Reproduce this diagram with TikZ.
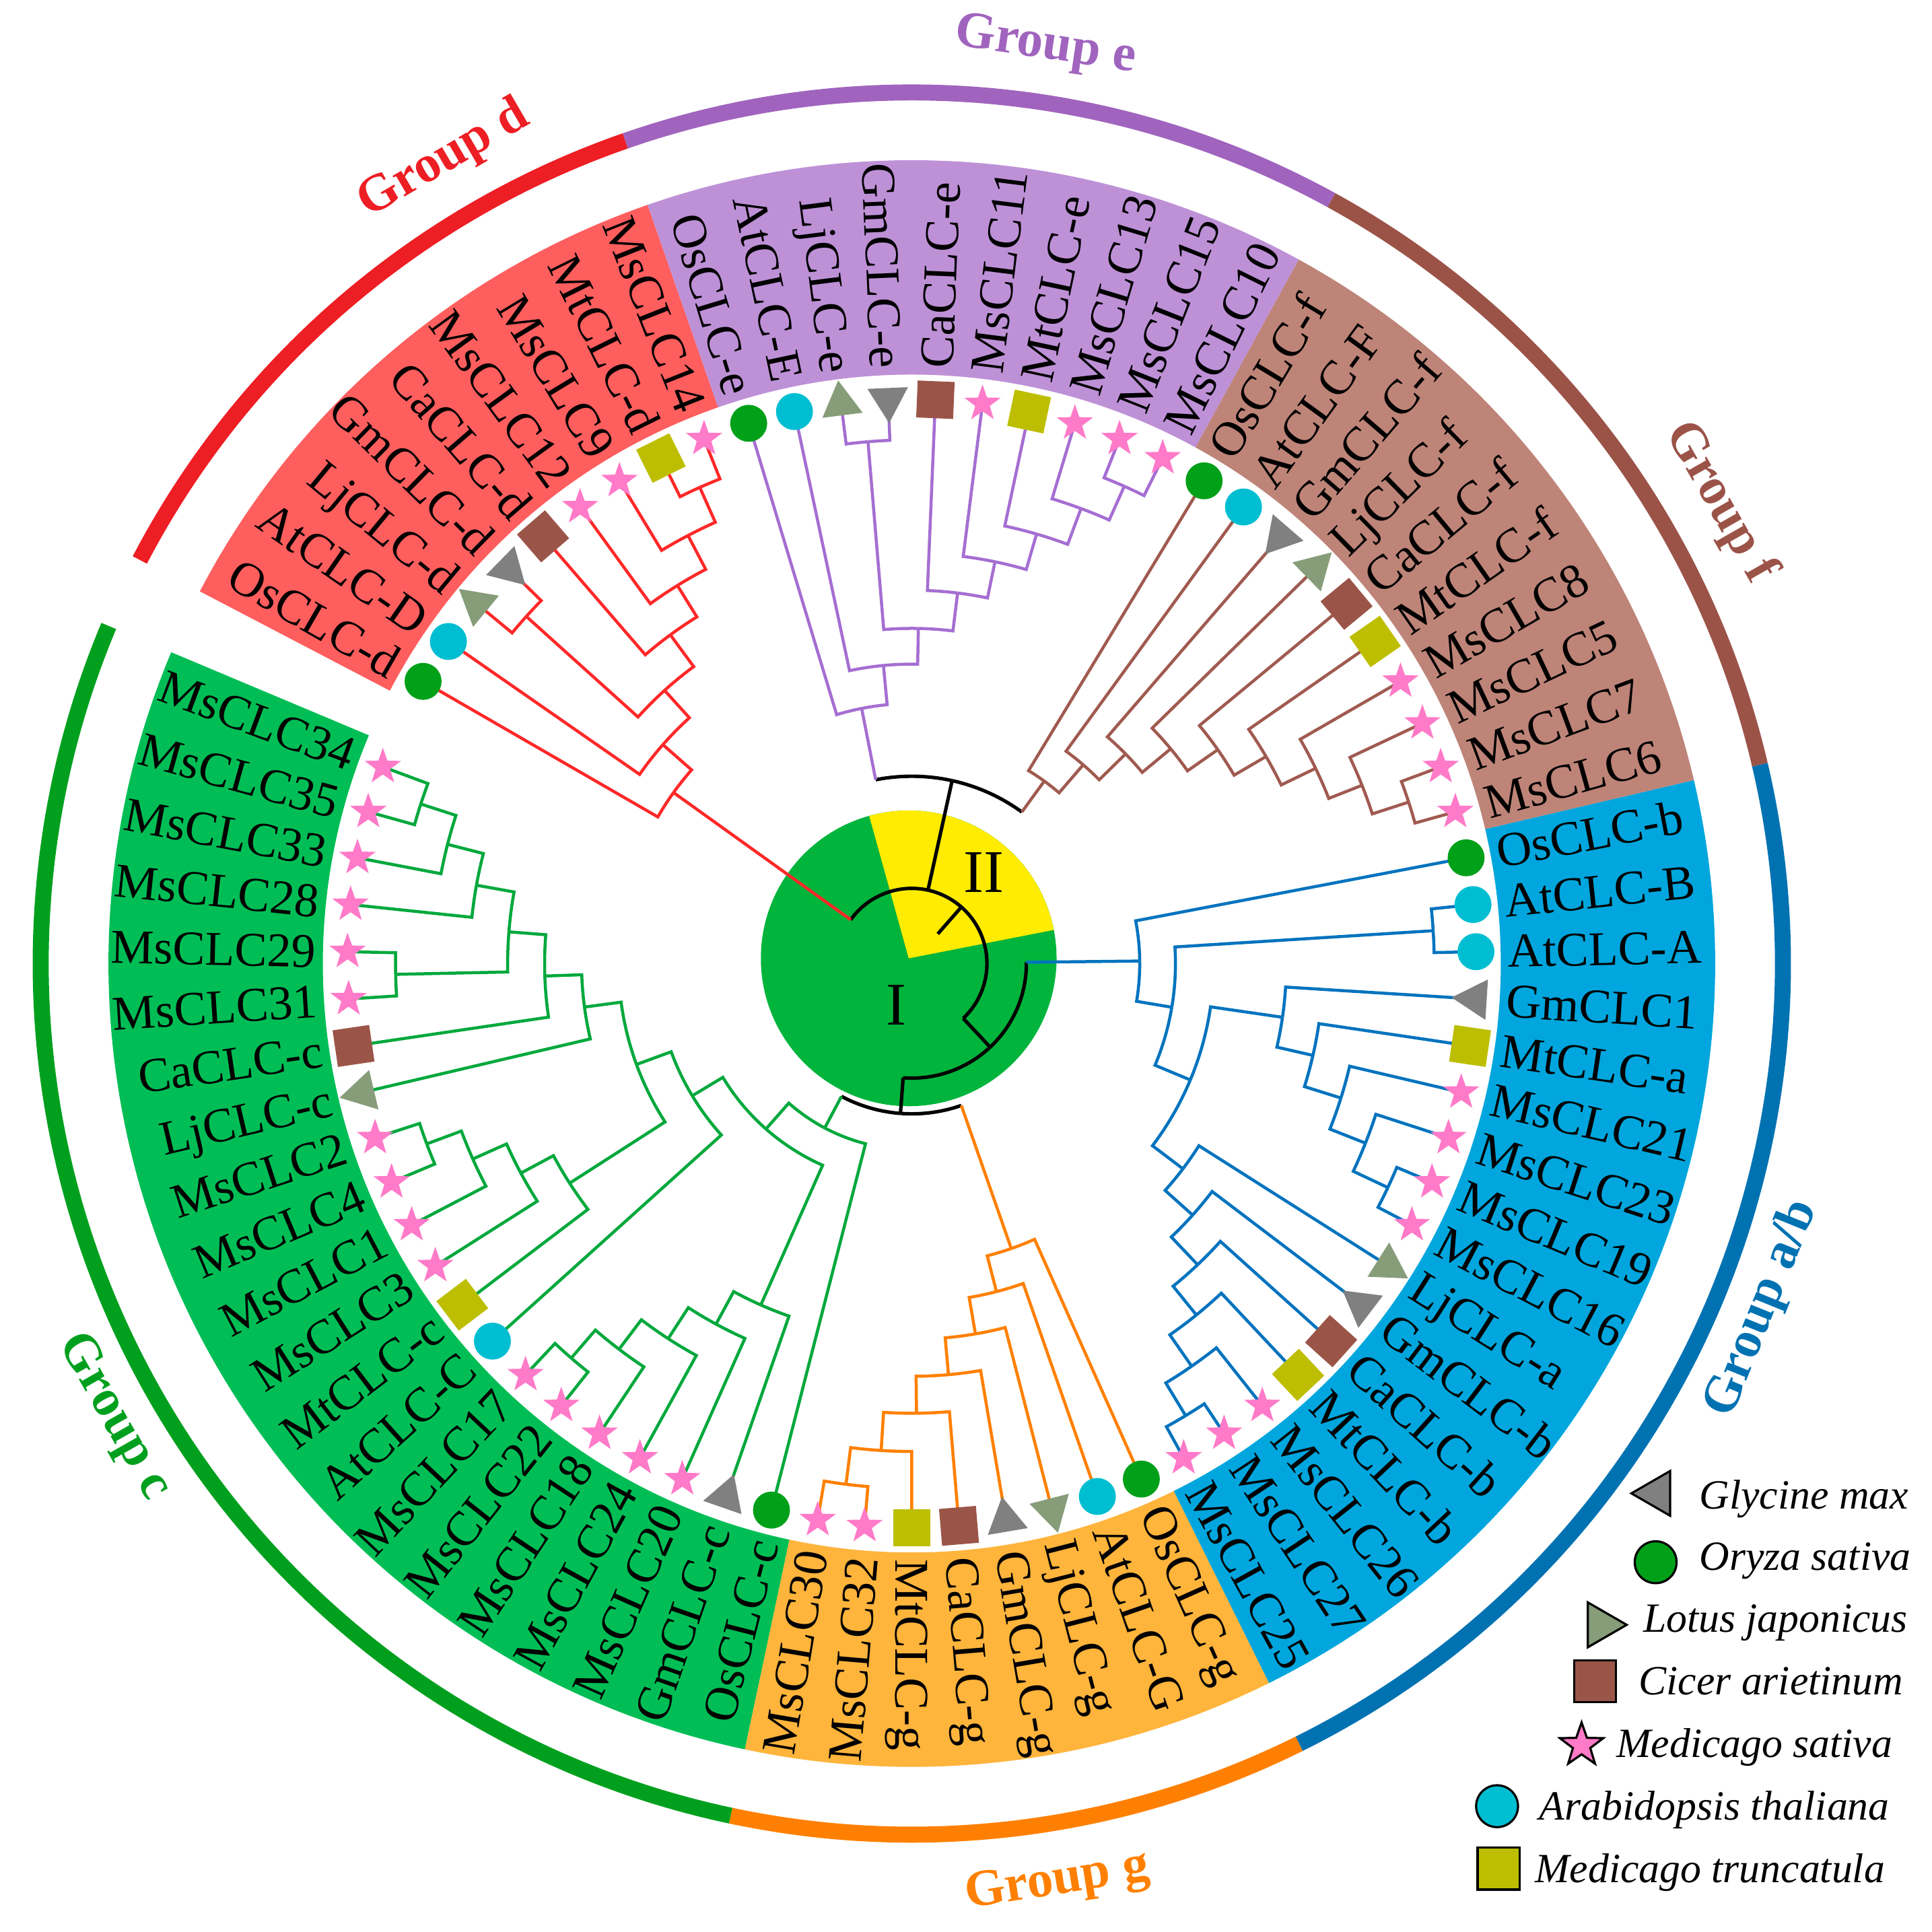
\documentclass[tikz,border=0pt]{standalone}
\usepackage{fontspec}
\setmainfont{Liberation Serif}
\usetikzlibrary{shapes.geometric}

\definecolor{diskg}{RGB}{0,180,60}
\definecolor{diskyel}{RGB}{255,236,0}
\definecolor{lnab}{RGB}{0,115,190}
\definecolor{lng}{RGB}{255,128,0}
\definecolor{lnc}{RGB}{0,168,60}
\definecolor{lnd}{RGB}{255,40,40}
\definecolor{lne}{RGB}{165,110,210}
\definecolor{lnf}{RGB}{160,90,80}
\definecolor{bandab}{RGB}{0,166,221}
\definecolor{bandg}{RGB}{255,180,60}
\definecolor{bandc}{RGB}{0,190,85}
\definecolor{bandd}{RGB}{255,94,94}
\definecolor{bande}{RGB}{190,145,215}
\definecolor{bandf}{RGB}{190,132,120}
\definecolor{ringab}{RGB}{0,114,178}
\definecolor{ringg}{RGB}{255,128,0}
\definecolor{ringc}{RGB}{0,160,30}
\definecolor{ringd}{RGB}{237,30,36}
\definecolor{ringe}{RGB}{160,100,190}
\definecolor{ringf}{RGB}{155,83,72}
\definecolor{cgm}{RGB}{128,128,128}
\definecolor{cor}{RGB}{0,160,25}
\definecolor{clj}{RGB}{135,157,122}
\definecolor{cca}{RGB}{155,85,72}
\definecolor{cms}{RGB}{255,122,200}
\definecolor{cat}{RGB}{0,190,210}
\definecolor{cmt}{RGB}{190,190,0}

\newcommand{\leafr}{4.58}
\newcommand{\labr}{4.83}
\newcommand{\tang}[1]{\csname ta@#1\endcsname}
\newcommand{\trad}[1]{\csname tr@#1\endcsname}
% child out to the parent radius, then round the parent arc
\newcommand{\twig}[2]{\draw (#2) -- (\tang{#2}:\trad{#1}) arc[start angle=\tang{#2}, end angle=\tang{#1}, radius=\trad{#1}];}
\newcommand{\setnode}[4]{%
  \pgfmathsetmacro\tmpang{(\tang{#2}+\tang{#3})/2}%
  \expandafter\xdef\csname ta@#1\endcsname{\tmpang}%
  \expandafter\xdef\csname tr@#1\endcsname{#4}%
  \coordinate (#1) at (\tmpang:#4);}
\newcommand{\clade}[4]{\setnode{#1}{#2}{#3}{#4}\twig{#1}{#2}\twig{#1}{#3}}
\newcommand{\hubarc}[2]{\draw (\tang{#2}:\trad{#1}) arc[start angle=\tang{#2}, end angle=\tang{#1}, radius=\trad{#1}];}
\newcommand{\hub}[4]{\setnode{#1}{#2}{#3}{#4}\hubarc{#1}{#2}\hubarc{#1}{#3}}
\newcommand{\stem}[3][]{\draw[#1] (#3) -- (\tang{#3}:\trad{#2});}

\tikzset{
  leaflab/.style={font=\fontsize{11.2}{12}\selectfont, inner sep=0pt, text height=7.5pt, text depth=0pt},
  grouplab/.style={font=\fontsize{12}{14}\selectfont\bfseries, inner sep=0pt},
  legtext/.style={font=\fontsize{9.6}{11}\selectfont\itshape, inner sep=0pt},
  osym/.style={circle, fill=cor, minimum size=0.30cm, inner sep=0pt},
  atsym/.style={circle, fill=cat, minimum size=0.30cm, inner sep=0pt},
  gmsym/.style={regular polygon, regular polygon sides=3, fill=cgm, minimum size=0.38cm, inner sep=0pt},
  ljsym/.style={regular polygon, regular polygon sides=3, fill=clj, minimum size=0.38cm, inner sep=0pt},
  casym/.style={rectangle, fill=cca, minimum size=0.30cm, inner sep=0pt},
  mtsym/.style={rectangle, fill=cmt, minimum size=0.30cm, inner sep=0pt},
  mssym/.style={star, star points=5, star point ratio=2.5, fill=cms, minimum size=0.31cm, inner sep=0pt},
  keybox/.style={draw=black, line width=0.5pt},
  grpring/.style={line width=0.13cm},
  tree/.style={line width=0.7pt},
  hubln/.style={draw=black, line width=0.8pt}
}

\begin{document}
\begin{tikzpicture}
\useasboundingbox (-7.40,-7.86) rectangle (8.28,7.82);

% label bands and outer rings
\foreach \from/\to/\bcol/\rcol in {13.2/-63.6/bandab/ringab, -63.6/-102/bandg/ringg, -102/-202.8/bandc/ringc,
    152.4/109.2/bandd/ringd, 109.2/61.2/bande/ringe, 61.2/13.2/bandf/ringf}
{
  \fill[\bcol] (\from:4.78) arc[start angle=\from, end angle=\to, radius=4.78]
    -- (\to:6.52) arc[start angle=\to, end angle=\from, radius=6.52] -- cycle;
  \draw[grpring, \rcol] (\from:7.07) arc[start angle=\from, end angle=\to, radius=7.07];
}

\node (ge) at (81.7:7.52) [grouplab, text=ringe, rotate=-8.3] {Group e};
\node (gd) at (120.2:7.55) [grouplab, text=ringd, rotate=30.2] {Group d};
\node (gf) at (29.7:7.55) [grouplab, text=ringf, rotate=-60.3] {Group f};
\node (gab) at (-22.1:7.45) [grouplab, text=ringab, rotate=67.9] {Group a/b};
\node (gg) at (-81:7.55) [grouplab, text=ringg, rotate=9] {Group g};
\node (gc) at (-150.4:7.45) [grouplab, text=ringc, rotate=-60.4] {Group c};

% centre disk
\fill[diskg] (-0.025,0.042) circle (1.20);
\fill[diskyel] (-0.025,0.042) -- ++(11.1:1.20) arc[start angle=11.1, end angle=105.5, radius=1.20] -- cycle;
\node (cI) at (-0.125,-0.338) [font=\fontsize{14}{16}\selectfont] {I};
\node (cII) at (0.585,0.74) [font=\fontsize{14}{16}\selectfont] {II};

% leaves and their labels
\foreach \kk/\lbl in {0/OsCLC-b,1/AtCLC-B,2/AtCLC-A,3/GmCLC1,4/MtCLC-a,5/MsCLC21,6/MsCLC23,7/MsCLC19,
    8/MsCLC16,9/LjCLC-a,10/GmCLC-b,11/CaCLC-b,12/MtCLC-b,13/MsCLC26,14/MsCLC27,15/MsCLC25,
    16/OsCLC-g,17/AtCLC-G,18/LjCLC-g,19/GmCLC-g,20/CaCLC-g,21/MtCLC-g,22/MsCLC32,23/MsCLC30,
    24/OsCLC-c,25/GmCLC-c,26/MsCLC20,27/MsCLC24,28/MsCLC18,29/MsCLC22,30/MsCLC17,31/AtCLC-C,
    32/MtCLC-c,33/MsCLC3,34/MsCLC1,35/MsCLC4,36/MsCLC2,37/LjCLC-c,38/CaCLC-c,39/MsCLC31,
    40/MsCLC29,41/MsCLC28,42/MsCLC33,43/MsCLC35,44/MsCLC34,
    46/OsCLC-d,47/AtCLC-D,48/LjCLC-d,49/GmCLC-d,50/CaCLC-d,51/MsCLC12,52/MsCLC9,53/MtCLC-d,54/MsCLC14,
    55/OsCLC-e,56/AtCLC-E,57/LjCLC-e,58/GmCLC-e,59/CaCLC-e,60/MsCLC11,61/MtCLC-e,62/MsCLC13,
    63/MsCLC15,64/MsCLC10,
    65/OsCLC-f,66/AtCLC-F,67/GmCLC-f,68/LjCLC-f,69/CaCLC-f,70/MtCLC-f,71/MsCLC8,72/MsCLC5,
    73/MsCLC7,74/MsCLC6}
{
  \pgfmathsetmacro\leafang{\kk<45 ? 10.8-4.8*\kk : 370.8-4.8*\kk}
  \expandafter\xdef\csname ta@l\kk\endcsname{\leafang}
  \expandafter\xdef\csname tr@l\kk\endcsname{\leafr}
  \coordinate (l\kk) at (\leafang:\leafr);
  \pgfmathtruncatemacro\flip{cos(\leafang)<-0.01}
  \ifnum\flip=1
    \pgfmathsetmacro\rot{\leafang+180}
    \node (t\kk) at (\leafang:\labr) [leaflab, anchor=east, rotate=\rot] {\lbl};
  \else
    \node (t\kk) at (\leafang:\labr) [leaflab, anchor=west, rotate=\leafang] {\lbl};
  \fi
}

% group a/b
\begin{scope}[tree, draw=lnab]
\clade{B8}{l7}{l8}{4.27}
\clade{B7}{l6}{B8}{3.96}
\clade{B6}{l5}{B7}{3.65}
\clade{B5}{l4}{B6}{3.34}
\clade{B3}{l3}{B5}{3.04}
\clade{B13}{l14}{l15}{4.29}
\clade{B12}{l13}{B13}{3.98}
\clade{B11}{l12}{B12}{3.67}
\clade{B10}{l11}{B11}{3.37}
\clade{B9}{l10}{B10}{3.06}
\clade{B4}{l9}{B9}{2.76}
\clade{B2}{B3}{B4}{2.45}
\clade{BA}{l1}{l2}{4.24}
\clade{B1}{BA}{B2}{2.14}
\clade{B0}{l0}{B1}{1.85}
\end{scope}

% group g
\begin{scope}[tree, draw=lng]
\clade{O6}{l22}{l23}{4.26}
\clade{O5}{l21}{O6}{3.96}
\clade{O4}{l20}{O5}{3.65}
\clade{O3}{l19}{O4}{3.35}
\clade{O2}{l18}{O3}{3.05}
\clade{O1}{l17}{O2}{2.75}
\clade{O0}{l16}{O1}{2.45}
\end{scope}

% group c
\begin{scope}[tree, draw=lnc]
\clade{G6}{l29}{l30}{4.23}
\clade{G5}{l28}{G6}{3.93}
\clade{G4}{l27}{G5}{3.63}
\clade{G3}{l26}{G4}{3.33}
\clade{G2}{l25}{G3}{3.03}
\clade{Ga}{l44}{l43}{4.19}
\clade{Gb}{Ga}{l42}{3.89}
\clade{Gc}{Gb}{l41}{3.59}
\clade{Ge}{l40}{l39}{4.19}
\clade{Gd}{Gc}{Ge}{3.28}
\clade{Gf}{Gd}{l38}{2.98}
\clade{Gg}{Gf}{l37}{2.68}
\clade{Gi}{l36}{l35}{4.20}
\clade{Gj}{Gi}{l34}{3.90}
\clade{Gk}{Gj}{l33}{3.60}
\clade{Gl}{Gk}{l32}{3.30}
\clade{G8}{Gg}{Gl}{2.38}
\clade{G7}{G8}{l31}{2.08}
\clade{G1}{G2}{G7}{1.79}
\clade{G0}{l24}{G1}{1.51}
\end{scope}

% group d
\begin{scope}[tree, draw=lnd]
\clade{R7}{l53}{l54}{4.23}
\clade{R6}{l52}{R7}{3.92}
\clade{R5}{l51}{R6}{3.61}
\clade{R4}{l50}{R5}{3.31}
\clade{R3}{l48}{l49}{4.21}
\clade{R2}{R3}{R4}{2.99}
\clade{R1}{l47}{R2}{2.69}
\clade{R0}{l46}{R1}{2.38}
\end{scope}

% group e
\begin{scope}[tree, draw=lne]
\clade{P8}{l63}{l64}{4.24}
\clade{P7}{l62}{P8}{3.94}
\clade{P6}{l61}{P7}{3.63}
\clade{P5}{l60}{P6}{3.33}
\clade{P4}{l59}{P5}{3.03}
\clade{P3}{l57}{l58}{4.25}
\clade{P2}{P3}{P4}{2.72}
\clade{P1}{l56}{P2}{2.43}
\clade{P0}{l55}{P1}{2.11}
\end{scope}

% group f
\begin{scope}[tree, draw=lnf]
\clade{F8}{l73}{l74}{4.24}
\clade{F7}{l72}{F8}{3.93}
\clade{F6}{l71}{F7}{3.64}
\clade{F5}{l70}{F6}{3.33}
\clade{F4}{l69}{F5}{3.03}
\clade{F3}{l68}{F4}{2.73}
\clade{F2}{l67}{F3}{2.43}
\clade{F1}{l66}{F2}{2.13}
\clade{F0}{l65}{F1}{1.83}
\end{scope}

% backbone
\begin{scope}[hubln]
\hub{ClII}{P0}{F0}{1.52}
\hub{N3}{G0}{O0}{1.22}
\hub{N2}{B0}{N3}{0.93}
\hub{N1}{R0}{N2}{0.61}
\stem{N2}{N3}
\stem{N1}{N2}
\stem{N1}{ClII}
\draw (N1) -- (\tang{N1}:0.32);
\end{scope}
\stem[tree, draw=lne]{ClII}{P0}
\stem[tree, draw=lnf]{ClII}{F0}
\stem[tree, draw=lnc]{N3}{G0}
\stem[tree, draw=lng]{N3}{O0}
\stem[tree, draw=lnab]{N2}{B0}
\stem[tree, draw=lnd]{N1}{R0}

% species marks
\foreach \kk in {0,16,24,46,55,65}
  \node (m\kk) at (\tang{l\kk}:\leafr) [osym] {};
\foreach \kk in {1,2,17,31,47,56,66}
  \node (m\kk) at (\tang{l\kk}:\leafr) [atsym] {};
\foreach \kk in {3,10,19,25,49,58,67}
  \node (m\kk) at (\tang{l\kk}:\leafr) [gmsym, rotate=\tang{l\kk}+90] {};
\foreach \kk in {9,18,37,48,57,68}
  \node (m\kk) at (\tang{l\kk}:\leafr) [ljsym, rotate=\tang{l\kk}-90] {};
\foreach \kk in {11,20,38,50,59,69}
  \node (m\kk) at (\tang{l\kk}:\leafr) [casym, rotate=\tang{l\kk}] {};
\foreach \kk in {4,12,21,32,53,61,70}
  \node (m\kk) at (\tang{l\kk}:\leafr) [mtsym, rotate=\tang{l\kk}] {};
\foreach \kk in {5,6,7,8,13,14,15,22,23,26,27,28,29,30,33,34,35,36,39,40,41,42,43,44,
    51,52,54,60,62,63,64,71,72,73,74}
  \node (m\kk) at (\tang{l\kk}:\leafr) [mssym] {};

% legend
\node (kgm) at (6.05,-4.30) [gmsym, keybox, minimum size=0.42cm, rotate=90] {};
\node (kgmt) at (6.386,-4.426) [legtext, anchor=base west] {Glycine max};
\node (kos) at (6.037,-4.859) [osym, keybox, minimum size=0.34cm] {};
\node (kost) at (6.386,-4.921) [legtext, anchor=base west] {Oryza sativa};
\node (klj) at (5.592,-5.367) [ljsym, keybox, minimum size=0.42cm, rotate=-90] {};
\node (kljt) at (5.929,-5.428) [legtext, anchor=base west] {Lotus japonicus};
\node (kca) at (5.544,-5.824) [casym, keybox, minimum size=0.34cm] {};
\node (kcat) at (5.893,-5.936) [legtext, anchor=base west] {Cicer arietinum};
\node (kms) at (5.436,-6.344) [mssym, keybox, minimum size=0.37cm] {};
\node (kmst) at (5.712,-6.443) [legtext, anchor=base west] {Medicago sativa};
\node (kat) at (4.75,-6.839) [atsym, keybox, minimum size=0.34cm] {};
\node (katt) at (5.087,-6.95) [legtext, anchor=base west] {Arabidopsis thaliana};
\node (kmt) at (4.762,-7.346) [mtsym, keybox, minimum size=0.34cm] {};
\node (kmtt) at (5.051,-7.457) [legtext, anchor=base west] {Medicago truncatula};

\end{tikzpicture}
\end{document}
